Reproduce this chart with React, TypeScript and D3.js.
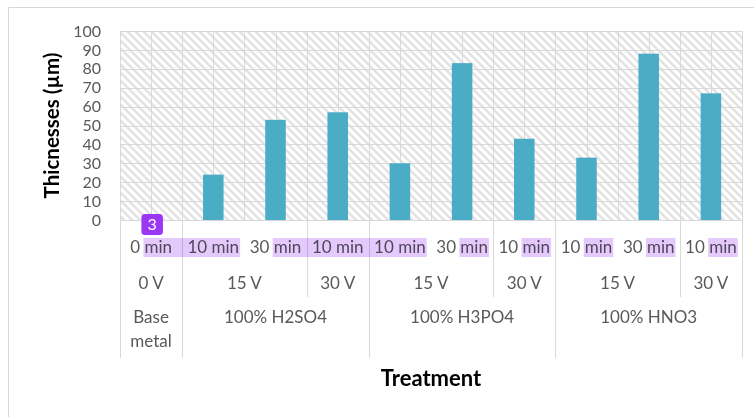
import React, { useRef, useLayoutEffect, useState } from "react";
import * as d3 from "d3";

const durations = ["0 min", "10 min", "30 min", "10 min", "10 min", "30 min", "10 min", "10 min", "30 min", "10 min"];
const voltageLabels = ["0 V", "15 V", "30 V", "15 V", "30 V", "15 V", "30 V"];
const voltageSpans = [1, 2, 1, 2, 1, 2, 1];
const acidLabels = [["Base", "metal"], ["100% H2SO4"], ["100% H3PO4"], ["100% HNO3"]];
const acidSpans = [1, 3, 3, 3];
const thickness = [0, 24, 53, 57, 30, 83, 43, 33, 88, 67];
const yTicks = [0, 10, 20, 30, 40, 50, 60, 70, 80, 90, 100];
// highlighted text runs: from category (start at "min" or whole label) to category end
const highlightFrom = [0, 2, 5, 6, 7, 8, 9];
const highlightFromPart = ["min", "min", "min", "min", "min", "min", "min"];
const highlightTo = [1, 4, 5, 6, 7, 8, 9];
const badgeLabel = "3";

const W = 754, H = 417;
const M = { left: 120, right: 742, top: 31, bottom: 220 };
const FONT = "Lato, 'Open Sans', sans-serif";
const GRID = "#d9d9d9";
const TEXT = "#595959";

export default function App() {
  const x = d3.scaleBand<number>().domain(d3.range(thickness.length)).range([M.left, M.right]).padding(0);
  const y = d3.scaleLinear().domain([0, 100]).range([M.bottom, M.top]);
  const step = x.step();
  const barW = step * 0.33;
  const labelRefs = useRef<(SVGTextElement | null)[]>([]);
  const [hl, setHl] = useState<{ x0: number; x1: number }[]>([]);

  useLayoutEffect(() => {
    const res: { x0: number; x1: number }[] = [];
    highlightFrom.forEach((f, i) => {
      const t0 = labelRefs.current[f];
      const t1 = labelRefs.current[highlightTo[i]];
      if (!t0 || !t1) return;
      const s0 = durations[f];
      const idx = highlightFromPart[i] === "min" ? s0.indexOf("min") : 0;
      const a = t0.getStartPositionOfChar(idx).x;
      const s1 = durations[highlightTo[i]];
      const b = t1.getEndPositionOfChar(s1.length - 1).x;
      res.push({ x0: a - 1, x1: b + 1 });
    });
    setHl(res);
  }, []);

  const vBounds: number[] = [];
  let acc = 0;
  voltageSpans.forEach((s) => { acc += s; vBounds.push(acc); });
  const aBounds: number[] = [];
  acc = 0;
  acidSpans.forEach((s) => { acc += s; aBounds.push(acc); });
  const bx = (k: number) => M.left + k * step;

  const vStarts = voltageSpans.map((_, i) => (i === 0 ? 0 : vBounds[i - 1]));
  const aStarts = acidSpans.map((_, i) => (i === 0 ? 0 : aBounds[i - 1]));

  const row1Y = 247, row2Y = 283, row3Y = 323;
  const vLineBottom = 297, aLineBottom = 358;

  return (
    <svg width={W} height={H} style={{ position: "absolute", left: 0, top: 0 }} fontFamily={FONT}>
      <defs>
        <pattern id="hatch" patternUnits="userSpaceOnUse" width={8} height={8}>
          <rect width={8} height={8} fill="#ffffff" />
          <path d="M-2,-2 L10,10 M-6,2 L2,10 M6,-2 L10,2" stroke="#e3e3e3" strokeWidth={2.5} />
        </pattern>
      </defs>
      <rect x={0} y={0} width={W} height={H} fill="#fff" />
      <path d={`M8.5,${H} V7.5 H${W}`} fill="none" stroke={GRID} strokeWidth={1} />
      <rect x={M.left} y={M.top} width={M.right - M.left} height={M.bottom - M.top} fill="url(#hatch)" />
      {yTicks.map((t) => (
        <line key={"h" + t} x1={M.left} x2={M.right} y1={Math.round(y(t)) + 0.5} y2={Math.round(y(t)) + 0.5} stroke={GRID} />
      ))}
      {d3.range(thickness.length * 2 + 1).map((k) => (
        <line key={"v" + k} x1={Math.round(M.left + (k * step) / 2) + 0.5} x2={Math.round(M.left + (k * step) / 2) + 0.5} y1={M.top} y2={M.bottom} stroke={GRID} />
      ))}
      {thickness.map((v, i) => (
        <rect key={"b" + i} x={x(i)! + step / 2 - barW / 2} y={y(v)} width={barW} height={y(0) - y(v)} fill="#4bacc6" />
      ))}
      {yTicks.map((t) => (
        <text key={"yt" + t} x={101} y={y(t)} dy="0.35em" textAnchor="end" fontSize={16} fill={TEXT}>{t}</text>
      ))}
      <line x1={M.left + 0.5} x2={M.left + 0.5} y1={M.top} y2={aLineBottom} stroke={GRID} />
      {vBounds.filter((b) => !aBounds.includes(b)).map((b) => (
        <line key={"vb" + b} x1={Math.round(bx(b)) + 0.5} x2={Math.round(bx(b)) + 0.5} y1={M.bottom} y2={vLineBottom} stroke={GRID} />
      ))}
      {aBounds.map((b) => (
        <line key={"ab" + b} x1={Math.round(bx(b)) + 0.5} x2={Math.round(bx(b)) + 0.5} y1={M.bottom} y2={aLineBottom} stroke={GRID} />
      ))}
      {durations.map((d, i) => (
        <text key={"d" + i} ref={(el) => { labelRefs.current[i] = el; }} x={x(i)! + step / 2} y={row1Y} dy="0.35em" textAnchor="middle" fontSize={17} fill={TEXT}>{d}</text>
      ))}
      {voltageLabels.map((v, i) => (
        <text key={"vl" + i} x={bx(vStarts[i] + voltageSpans[i] / 2)} y={row2Y} dy="0.35em" textAnchor="middle" fontSize={17} fill={TEXT}>{v}</text>
      ))}
      {acidLabels.map((lines, i) => (
        <text key={"al" + i} x={bx(aStarts[i] + acidSpans[i] / 2)} y={row3Y} dy="0.35em" textAnchor="middle" fontSize={17} fill={TEXT}>
          {lines.map((l, j) => (
            <tspan key={j} x={bx(aStarts[i] + acidSpans[i] / 2)} dy={j === 0 ? 0 : 24}>{l}</tspan>
          ))}
        </text>
      ))}
      <text x={(M.left + M.right) / 2} y={378} dy="0.35em" textAnchor="middle" fontSize={22} fontWeight="bold" fill="#000">Treatment</text>
      <text transform={`translate(52,${(M.top + M.bottom) / 2}) rotate(-90)`} dy="0.35em" textAnchor="middle" fontSize={20.5} fontWeight="bold" fill="#000">Thicnesses (µm)</text>
      {hl.map((h, i) => (
        <rect key={"hl" + i} x={h.x0} y={238} width={h.x1 - h.x0} height={19} fill="#e4cafc" style={{ mixBlendMode: "multiply" }} />
      ))}
      {hl.length > 0 && (
        <g>
          <rect x={hl[0].x0 - 2} y={214} width={21.5} height={21} rx={3.5} fill="#9b36f2" />
          <text x={hl[0].x0 - 2 + 10.75} y={224.5} dy="0.36em" textAnchor="middle" fontSize={16} fill="#fff">{badgeLabel}</text>
        </g>
      )}
    </svg>
  );
}
